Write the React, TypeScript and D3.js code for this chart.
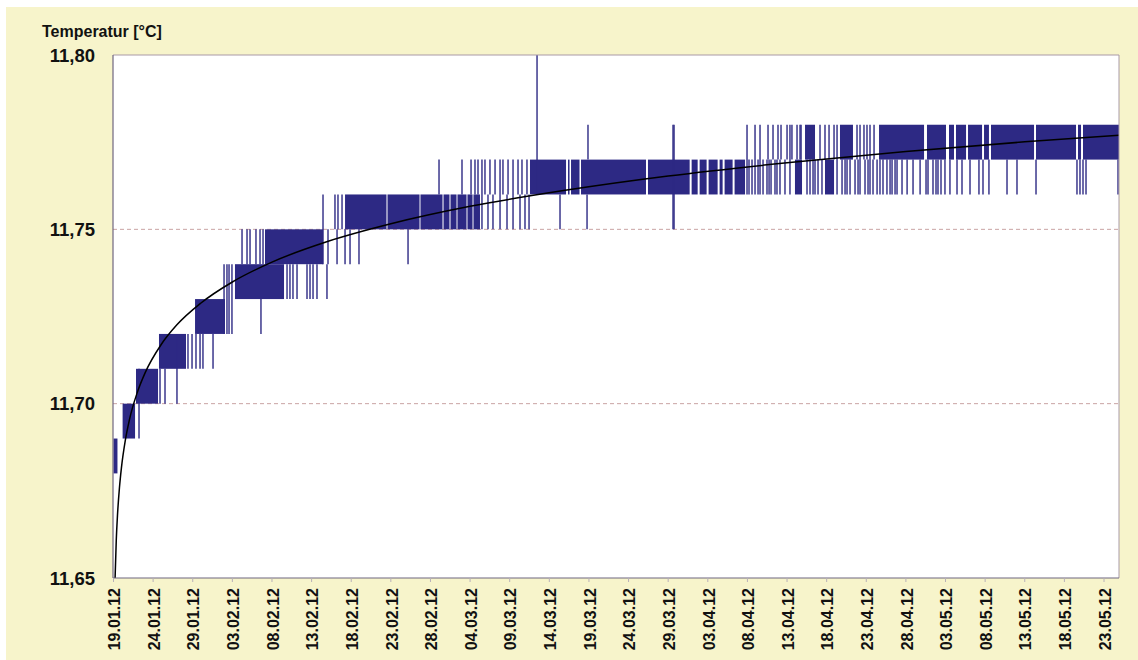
import React from "react";
import * as d3 from "d3";

// ---- data (day offsets since 19.01.2012 00:00, temperatures in °C) ----
const startDate = Date.UTC(2012, 0, 19);
const tickDays = d3.range(0, 126, 5);
const yTicks = [11.65, 11.7, 11.75, 11.8];
const gridValues = [11.7, 11.75];

// dense measurement bands: [fromDay, toDay, low, high]
const blocks: [number, number, number, number][] = [
  [0.0, 0.5, 11.68, 11.69],
  [1.15, 2.72, 11.69, 11.7],
  [2.84, 5.62, 11.7, 11.71],
  [5.74, 9.15, 11.71, 11.72],
  [10.29, 14.07, 11.72, 11.73],
  [15.33, 21.52, 11.73, 11.74],
  [19.12, 26.44, 11.74, 11.75],
  [29.22, 34.45, 11.75, 11.76],
  [34.58, 38.62, 11.75, 11.76],
  [38.74, 41.52, 11.75, 11.76],
  [41.65, 42.4, 11.75, 11.76],
  [42.53, 43.29, 11.75, 11.76],
  [43.41, 44.55, 11.75, 11.76],
  [44.67, 45.31, 11.75, 11.76],
  [45.43, 46.25, 11.75, 11.76],
  [52.56, 57.11, 11.76, 11.77],
  [57.36, 57.55, 11.76, 11.77],
  [57.74, 58.81, 11.76, 11.77],
  [59.0, 67.2, 11.76, 11.77],
  [67.45, 72.71, 11.76, 11.77],
  [72.96, 73.72, 11.76, 11.77],
  [73.97, 74.85, 11.76, 11.77],
  [75.1, 76.24, 11.76, 11.77],
  [76.49, 76.87, 11.76, 11.77],
  [77.12, 78.13, 11.76, 11.77],
  [78.38, 79.7, 11.76, 11.77],
  [86.0, 86.89, 11.76, 11.77],
  [89.79, 90.93, 11.76, 11.77],
  [87.27, 88.53, 11.77, 11.78],
  [91.68, 93.32, 11.77, 11.78],
  [96.61, 102.29, 11.77, 11.78],
  [102.66, 105.06, 11.77, 11.78],
  [105.44, 106.07, 11.77, 11.78],
  [106.32, 107.59, 11.77, 11.78],
  [107.84, 109.61, 11.77, 11.78],
  [109.86, 110.48, 11.77, 11.78],
  [110.74, 116.17, 11.77, 11.78],
  [116.42, 121.47, 11.77, 11.78],
  [121.72, 122.1, 11.77, 11.78],
  [122.35, 126.89, 11.77, 11.78],
];

// single excursions: [day, low, high]
const spikes: [number, number, number][] = [
  [3.22, 11.69, 11.71],
  [5.87, 11.7, 11.71],
  [6.5, 11.7, 11.71],
  [8.01, 11.7, 11.72],
  [9.4, 11.71, 11.72],
  [9.91, 11.71, 11.72],
  [10.41, 11.71, 11.72],
  [10.92, 11.71, 11.72],
  [11.29, 11.71, 11.72],
  [12.56, 11.71, 11.72],
  [13.95, 11.72, 11.74],
  [14.32, 11.72, 11.74],
  [14.58, 11.72, 11.74],
  [14.95, 11.72, 11.74],
  [18.61, 11.72, 11.73],
  [16.22, 11.74, 11.75],
  [16.85, 11.74, 11.75],
  [17.23, 11.74, 11.75],
  [17.98, 11.74, 11.75],
  [18.49, 11.74, 11.75],
  [18.87, 11.74, 11.75],
  [21.9, 11.73, 11.74],
  [22.27, 11.73, 11.74],
  [22.65, 11.73, 11.74],
  [23.16, 11.73, 11.74],
  [24.42, 11.73, 11.74],
  [24.8, 11.73, 11.74],
  [25.18, 11.73, 11.74],
  [25.68, 11.73, 11.74],
  [26.94, 11.73, 11.74],
  [26.44, 11.74, 11.76],
  [27.07, 11.74, 11.75],
  [28.21, 11.74, 11.75],
  [29.22, 11.74, 11.75],
  [29.85, 11.74, 11.75],
  [30.98, 11.74, 11.75],
  [27.95, 11.75, 11.76],
  [28.33, 11.75, 11.76],
  [28.84, 11.75, 11.76],
  [37.17, 11.74, 11.75],
  [41.08, 11.76, 11.77],
  [43.98, 11.76, 11.77],
  [45.12, 11.76, 11.77],
  [45.62, 11.76, 11.77],
  [46.0, 11.76, 11.77],
  [46.5, 11.75, 11.77],
  [46.88, 11.76, 11.77],
  [47.51, 11.76, 11.77],
  [48.15, 11.76, 11.77],
  [48.78, 11.75, 11.77],
  [49.15, 11.76, 11.77],
  [49.79, 11.76, 11.77],
  [50.42, 11.75, 11.77],
  [51.05, 11.76, 11.77],
  [51.55, 11.76, 11.77],
  [52.18, 11.76, 11.77],
  [47.26, 11.75, 11.76],
  [47.89, 11.75, 11.76],
  [49.66, 11.75, 11.76],
  [51.3, 11.75, 11.76],
  [51.93, 11.75, 11.76],
  [52.44, 11.75, 11.76],
  [53.45, 11.76, 11.8],
  [56.35, 11.75, 11.76],
  [59.76, 11.75, 11.76],
  [59.88, 11.77, 11.78],
  [70.61, 11.75, 11.78],
  [70.74, 11.75, 11.78],
  [79.95, 11.76, 11.78],
  [80.2, 11.76, 11.77],
  [80.58, 11.76, 11.77],
  [80.96, 11.76, 11.78],
  [81.34, 11.76, 11.77],
  [81.59, 11.76, 11.78],
  [81.97, 11.76, 11.77],
  [82.47, 11.76, 11.77],
  [82.6, 11.77, 11.78],
  [82.73, 11.76, 11.77],
  [82.98, 11.76, 11.77],
  [83.23, 11.77, 11.78],
  [83.48, 11.76, 11.77],
  [83.73, 11.76, 11.77],
  [83.86, 11.77, 11.78],
  [84.11, 11.76, 11.77],
  [84.24, 11.77, 11.78],
  [84.74, 11.76, 11.77],
  [85.0, 11.77, 11.78],
  [85.37, 11.76, 11.78],
  [85.62, 11.77, 11.78],
  [86.26, 11.77, 11.78],
  [86.64, 11.77, 11.78],
  [86.77, 11.77, 11.78],
  [87.52, 11.76, 11.77],
  [87.9, 11.76, 11.77],
  [88.28, 11.76, 11.77],
  [88.53, 11.76, 11.77],
  [88.91, 11.76, 11.77],
  [89.16, 11.77, 11.78],
  [89.41, 11.76, 11.77],
  [89.79, 11.77, 11.78],
  [90.3, 11.77, 11.78],
  [90.93, 11.77, 11.78],
  [91.31, 11.76, 11.78],
  [91.94, 11.76, 11.77],
  [92.32, 11.76, 11.77],
  [92.57, 11.76, 11.77],
  [92.95, 11.76, 11.77],
  [93.58, 11.76, 11.77],
  [93.83, 11.77, 11.78],
  [93.96, 11.76, 11.77],
  [94.21, 11.76, 11.78],
  [94.71, 11.77, 11.78],
  [94.84, 11.76, 11.77],
  [95.09, 11.77, 11.78],
  [95.22, 11.76, 11.77],
  [95.47, 11.76, 11.78],
  [95.85, 11.76, 11.77],
  [95.98, 11.77, 11.78],
  [96.36, 11.76, 11.77],
  [96.73, 11.76, 11.77],
  [97.11, 11.76, 11.77],
  [97.61, 11.76, 11.77],
  [98.0, 11.76, 11.77],
  [98.25, 11.76, 11.77],
  [98.63, 11.76, 11.77],
  [98.88, 11.76, 11.77],
  [99.51, 11.76, 11.77],
  [100.15, 11.76, 11.77],
  [100.9, 11.76, 11.77],
  [101.79, 11.76, 11.77],
  [102.54, 11.76, 11.77],
  [102.79, 11.76, 11.77],
  [103.42, 11.76, 11.77],
  [103.8, 11.76, 11.77],
  [104.05, 11.76, 11.77],
  [104.43, 11.76, 11.77],
  [104.93, 11.76, 11.77],
  [105.56, 11.76, 11.77],
  [106.45, 11.76, 11.77],
  [107.08, 11.76, 11.77],
  [108.09, 11.76, 11.77],
  [109.22, 11.76, 11.77],
  [109.73, 11.76, 11.77],
  [110.48, 11.76, 11.77],
  [112.76, 11.76, 11.77],
  [114.02, 11.76, 11.77],
  [116.42, 11.76, 11.77],
  [121.59, 11.76, 11.77],
  [121.97, 11.76, 11.77],
  [122.35, 11.76, 11.77],
  [122.73, 11.76, 11.77],
  [126.77, 11.76, 11.77],
];

// logarithmic trend line: [day, value]
const trendDays = [0.2, 0.35, 0.5, 0.75, 1, 1.5, 2, 3, 4, 6, 8, 11, 15, 20, 27, 35, 45, 57, 70, 85, 100, 115, 126.9];
const trendValues = [
  11.6499, 11.6609, 11.6679, 11.6759, 11.6816, 11.6896, 11.6953, 11.7032, 11.7089, 11.7169, 11.7226,
  11.7288, 11.7349, 11.7406, 11.7465, 11.7516, 11.7566, 11.7612, 11.7653, 11.7691, 11.7723, 11.7751, 11.777,
];

// ---- layout ----
const W = 1138;
const H = 660;
const plot = { left: 113, top: 55, right: 1119, bottom: 578 };
const SERIES = "#2d2984";
const FONT = "'Liberation Sans', Arial, sans-serif";

const toDate = (d: number) => new Date(startDate + d * 864e5);

export default function App() {
  const x = d3.scaleUtc().domain([toDate(0), toDate(125)]).range([113.5, 1104]);
  const y = d3.scaleLinear().domain([11.65, 11.8]).range([plot.bottom, plot.top]);
  const fmtDate = d3.utcFormat("%d.%m.%y");
  const fmtY = (v: number) => d3.format(".2f")(v).replace(".", ",");

  const trendLine = d3
    .line<number>()
    .x((_, i) => x(toDate(trendDays[i])))
    .y((v) => y(v))
    .curve(d3.curveMonotoneX);

  return (
    <svg
      width={W}
      height={H}
      style={{ position: "absolute", left: 0, top: 0, display: "block" }}
      fontFamily={FONT}
    >
      <rect x={0} y={0} width={W} height={H} fill="#ffffff" />
      <rect x={6} y={7} width={W - 6} height={H - 7} fill="#f7f4cb" />
      <defs>
        <clipPath id="plotClip">
          <rect x={plot.left} y={plot.top - 2} width={plot.right - plot.left} height={plot.bottom - plot.top + 2} />
        </clipPath>
      </defs>
      <rect
        x={plot.left}
        y={plot.top}
        width={plot.right - plot.left}
        height={plot.bottom - plot.top}
        fill="#ffffff"
      />
      {gridValues.map((v) => (
        <line
          key={v}
          x1={plot.left}
          x2={plot.right}
          y1={y(v)}
          y2={y(v)}
          stroke="#c9a3a3"
          strokeWidth={1}
          strokeDasharray="4,3"
        />
      ))}
      <g clipPath="url(#plotClip)">
        {blocks.map(([d0, d1, lo, hi], i) => (
          <rect
            key={"b" + i}
            x={x(toDate(d0))}
            width={Math.max(1, x(toDate(d1)) - x(toDate(d0)))}
            y={y(hi)}
            height={y(lo) - y(hi)}
            fill={SERIES}
          />
        ))}
        {spikes.map(([d, lo, hi], i) => (
          <line
            key={"s" + i}
            x1={x(toDate(d))}
            x2={x(toDate(d))}
            y1={y(lo)}
            y2={y(hi)}
            stroke={SERIES}
            strokeWidth={1.4}
          />
        ))}
        <path d={trendLine(trendValues) || ""} fill="none" stroke="#000000" strokeWidth={1.5} />
      </g>
      {/* frame */}
      <line x1={plot.left} x2={plot.right} y1={plot.top} y2={plot.top} stroke="#a99aa6" strokeWidth={1} />
      <line x1={plot.right} x2={plot.right} y1={plot.top} y2={plot.bottom} stroke="#a99aa6" strokeWidth={1} />
      <line x1={plot.left} x2={plot.left} y1={plot.top} y2={plot.bottom} stroke="#6f6680" strokeWidth={1.2} />
      <line x1={plot.left} x2={plot.right} y1={plot.bottom} y2={plot.bottom} stroke="#6f6680" strokeWidth={1.2} />
      {/* x ticks */}
      {tickDays.map((d) => {
        const px = x(toDate(d));
        return (
          <g key={"t" + d}>
            <line x1={px} x2={px} y1={plot.bottom} y2={plot.bottom + 4} stroke="#b8b0b8" strokeWidth={1} />
            <text
              transform={`translate(${px},588) rotate(-90)`}
              textAnchor="end"
              dy="0.42em"
              fontSize={16}
              fontWeight="bold"
              fill="#111"
            >
              {fmtDate(toDate(d))}
            </text>
          </g>
        );
      })}
      {/* y tick labels */}
      {yTicks.map((v) => (
        <text key={"y" + v} x={95} y={y(v)} dy="0.36em" textAnchor="end" fontSize={18.5} fontWeight="bold" fill="#111">
          {fmtY(v)}
        </text>
      ))}
      <text x={42} y={37} fontSize={16} fontWeight="bold" fill="#111">
        Temperatur [°C]
      </text>
    </svg>
  );
}
